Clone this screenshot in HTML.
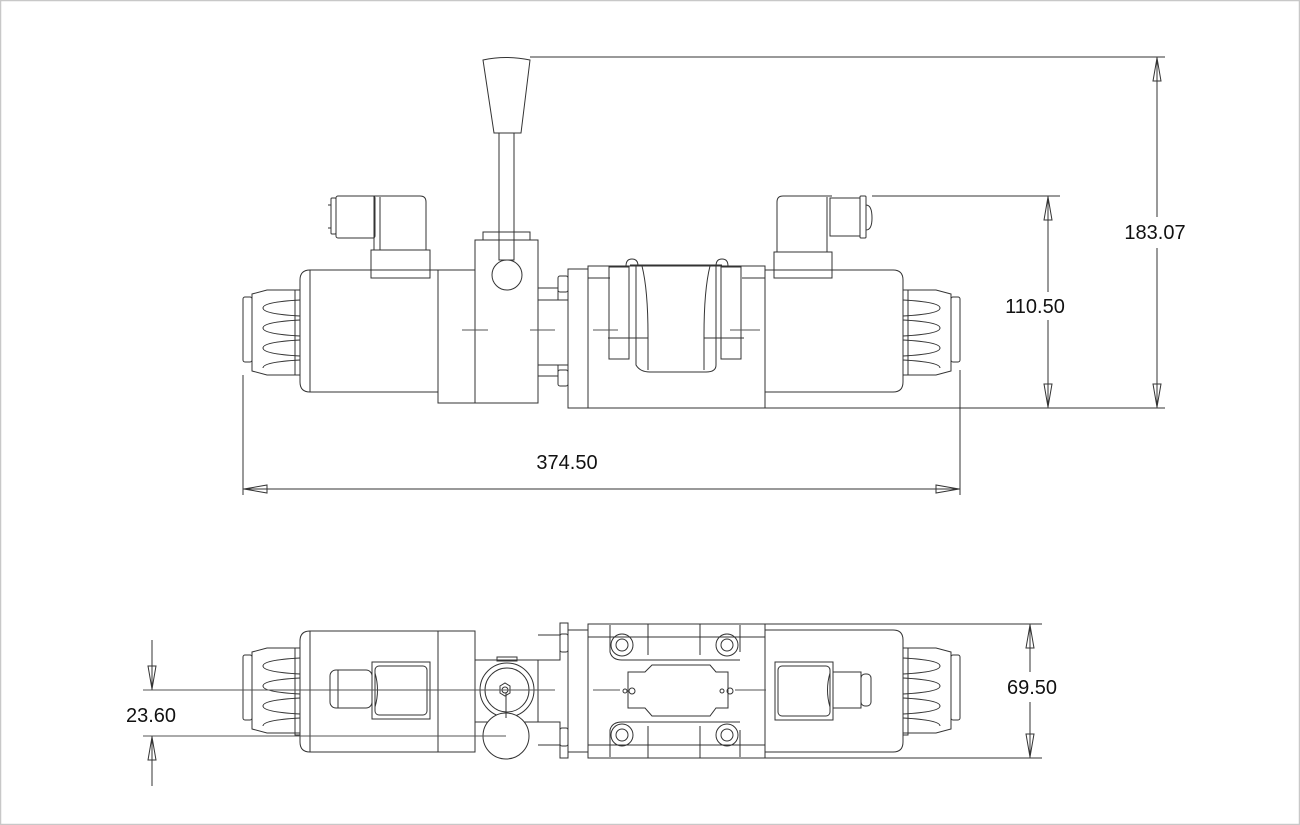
<!DOCTYPE html>
<html><head><meta charset="utf-8"><style>
html,body{margin:0;padding:0;background:#fff}
svg{display:block}
text{font-family:"Liberation Sans",sans-serif;font-size:20px;fill:#111}
</style></head><body>
<svg width="1300" height="825" viewBox="0 0 1300 825" xmlns="http://www.w3.org/2000/svg">
<rect x="0.5" y="0.5" width="1299" height="824" fill="#fff" stroke="#c8c8c8" stroke-width="1.5"/>
<defs>
<g id="knurl">
<rect x="0" y="7" width="9" height="65" rx="2" fill="none"/>
<path d="M9 4 L24 0 L57 0 L57 85 L24 85 L9 81 Z" fill="none"/>
<path d="M57 10 Q20 12 20 18 Q20 24 57 26 M57 30 Q20 32 20 38 Q20 44 57 46 M57 50 Q20 52 20 58 Q20 64 57 66 M57 70 Q20 72 20 78" fill="none"/>
</g>
</defs>
<g fill="none" stroke="#333" stroke-width="1">
<path d="M483 60 Q506 55 530 60 L521 133 L494 133 Z"/>
<line x1="530" y1="57" x2="1165" y2="57"/>
<rect x="499" y="133" width="15" height="127"/>
<rect x="483" y="232" width="47" height="8"/>
<rect x="475" y="240" width="63" height="163"/>
<circle cx="507" cy="275" r="15" fill="#fff"/>
<path d="M310 270 L438 270 L438 392 L310 392 Q300 392 300 382 L300 280 Q300 270 310 270 Z"/>
<line x1="310" y1="270" x2="310" y2="392"/>
<rect x="438" y="270" width="37" height="133"/>
<g transform="translate(243,290)"><use href="#knurl"/></g>
<rect x="295" y="290" width="5" height="85"/>
<rect x="331" y="198" width="5" height="36" rx="1"/>
<path d="M328 205 L331 205 M328 228 L331 228"/>
<rect x="336" y="196" width="39" height="42" rx="2"/>
<path d="M374 196 L420 196 Q426 196 426 202 L426 250 L374 250 Z"/>
<line x1="380" y1="197" x2="380" y2="250"/>
<rect x="371" y="250" width="59" height="28"/>
<path d="M538 288 L558 288 L558 300 L568 300 L568 365 L558 365 L558 376 L538 376"/>
<path d="M538 300 L558 300 M538 365 L558 365"/>
<rect x="558" y="276" width="10" height="16" rx="2"/>
<rect x="558" y="370" width="10" height="16" rx="2"/>
<rect x="568" y="269" width="20" height="139"/>
<rect x="588" y="266" width="177" height="142"/>
<line x1="588" y1="278" x2="610" y2="278"/>
<line x1="742" y1="278" x2="765" y2="278"/>
<rect x="609" y="267" width="20" height="92"/>
<rect x="721" y="267" width="20" height="92"/>
<path d="M636 265 L636 365 Q640 372 650 372 L706 372 Q716 372 716 365 L716 265"/>
<path d="M642 266 Q648 290 648 335 L648 370 M710 266 Q704 290 704 335 L704 370"/>
<path d="M608 338 L648 338 M704 338 L744 338"/>
<path d="M626 266 Q626 259 632 259 Q638 259 638 266 M716 266 Q716 259 722 259 Q728 259 728 266"/>
<line x1="630" y1="265" x2="722" y2="265"/>
<path d="M765 270 L893 270 Q903 270 903 280 L903 382 Q903 392 893 392 L765 392"/>
<g transform="translate(960,290) scale(-1,1)"><use href="#knurl"/></g>
<rect x="903" y="290" width="5" height="85"/>
<path d="M832 196 L783 196 Q777 196 777 202 L777 252 L832 252"/>
<line x1="827" y1="197" x2="827" y2="252"/>
<rect x="774" y="252" width="58" height="26"/>
<rect x="830" y="198" width="30" height="38"/>
<rect x="860" y="196" width="6" height="42" rx="1"/>
<path d="M866 205 Q872 205 872 218 Q872 230 866 230"/>
<path d="M462 330 L488 330 M530 330 L555 330 M593 330 L618 330 M730 330 L760 330" stroke="#555"/>
<line x1="872" y1="196" x2="1060" y2="196"/>
<line x1="765" y1="408" x2="1165" y2="408"/>
<line x1="1048" y1="196" x2="1048" y2="292"/>
<line x1="1048" y1="320" x2="1048" y2="408"/>
<path d="M1048 197 L1044 220 L1052 220 Z M1048 407 L1044 384 L1052 384 Z"/>
<line x1="1157" y1="57" x2="1157" y2="217"/>
<line x1="1157" y1="248" x2="1157" y2="408"/>
<path d="M1157 58 L1153 81 L1161 81 Z M1157 407 L1153 384 L1161 384 Z"/>
<line x1="243" y1="375" x2="243" y2="495"/>
<line x1="960" y1="370" x2="960" y2="495"/>
<line x1="243" y1="489" x2="960" y2="489"/>
<path d="M244 489 L267 485 L267 493 Z M959 489 L936 485 L936 493 Z"/>
<path d="M310 631 L475 631 L475 752 L310 752 Q300 752 300 742 L300 641 Q300 631 310 631 Z"/>
<line x1="310" y1="631" x2="310" y2="752"/>
<line x1="438" y1="631" x2="438" y2="752"/>
<g transform="translate(243,648)"><use href="#knurl"/></g>
<rect x="295" y="648" width="5" height="87"/>
<rect x="372" y="662" width="58" height="57"/>
<rect x="375" y="666" width="52" height="49" rx="4"/>
<path d="M375 673 Q380 690 375 707"/>
<rect x="330" y="670" width="42" height="38" rx="6"/>
<line x1="338" y1="670" x2="338" y2="708"/>
<rect x="475" y="660" width="63" height="62"/>
<rect x="497" y="657" width="20" height="4"/>
<circle cx="507" cy="690" r="27"/>
<circle cx="507" cy="690" r="22"/>
<path d="M500 686 L505 683 L510 686 L510 693 L505 696 L500 693 Z"/>
<circle cx="505" cy="690" r="3"/>
<circle cx="506" cy="736" r="23" fill="#fff"/>
<line x1="506" y1="693" x2="506" y2="718"/>
<path d="M538 635 L560 635 L560 623 L568 623 L568 758 L560 758 L560 745 L538 745"/>
<path d="M538 660 L560 660 L560 635 M538 722 L560 722 L560 745"/>
<rect x="560" y="634" width="8" height="18" rx="2"/>
<rect x="560" y="728" width="8" height="18" rx="2"/>
<rect x="568" y="630" width="20" height="122"/>
<rect x="588" y="624" width="177" height="134"/>
<line x1="588" y1="637" x2="765" y2="637"/>
<line x1="588" y1="745" x2="765" y2="745"/>
<path d="M610 625 L610 652 Q612 660 622 660 L740 660 M610 757 L610 730 Q612 722 622 722 L740 722"/>
<path d="M740 625 L740 652 M740 757 L740 730"/>
<circle cx="622" cy="645" r="11"/><circle cx="622" cy="645" r="6"/>
<circle cx="727" cy="645" r="11"/><circle cx="727" cy="645" r="6"/>
<circle cx="622" cy="735" r="11"/><circle cx="622" cy="735" r="6"/>
<circle cx="727" cy="735" r="11"/><circle cx="727" cy="735" r="6"/>
<path d="M648 624 L648 655 M700 624 L700 655 M648 726 L648 758 M700 726 L700 758"/>
<path d="M628 672 L645 672 L652 665 L710 665 L716 672 L728 672 L728 708 L716 708 L710 716 L652 716 L645 708 L628 708 Z"/>
<circle cx="632" cy="691" r="3"/><circle cx="625" cy="691" r="2"/>
<circle cx="730" cy="691" r="3"/><circle cx="722" cy="691" r="2"/>
<path d="M765 630 L893 630 Q903 630 903 640 L903 742 Q903 752 893 752 L765 752"/>
<g transform="translate(960,648) scale(-1,1)"><use href="#knurl"/></g>
<rect x="903" y="648" width="5" height="87"/>
<rect x="775" y="662" width="58" height="58"/>
<rect x="778" y="666" width="52" height="50" rx="4"/>
<path d="M830 673 Q825 690 830 707"/>
<rect x="833" y="672" width="28" height="36"/>
<rect x="861" y="674" width="10" height="32" rx="4"/>
<line x1="143" y1="690" x2="555" y2="690" stroke="#555"/>
<line x1="143" y1="736" x2="506" y2="736" stroke="#555"/>
<path d="M593 690 L620 690 M735 690 L766 690" stroke="#555"/>
<line x1="152" y1="640" x2="152" y2="690"/>
<path d="M152 689 L148 666 L156 666 Z"/>
<line x1="152" y1="736" x2="152" y2="786"/>
<path d="M152 737 L148 760 L156 760 Z"/>
<line x1="765" y1="624" x2="1042" y2="624"/>
<line x1="765" y1="758" x2="1042" y2="758"/>
<line x1="1030" y1="624" x2="1030" y2="672"/>
<line x1="1030" y1="702" x2="1030" y2="758"/>
<path d="M1030 625 L1026 648 L1034 648 Z M1030 757 L1026 734 L1034 734 Z"/>
</g>
<text x="1155" y="239" text-anchor="middle">183.07</text>
<text x="1035" y="313" text-anchor="middle">110.50</text>
<text x="567" y="469" text-anchor="middle">374.50</text>
<text x="1032" y="694" text-anchor="middle">69.50</text>
<text x="151" y="722" text-anchor="middle">23.60</text>
</svg>
</body></html>
